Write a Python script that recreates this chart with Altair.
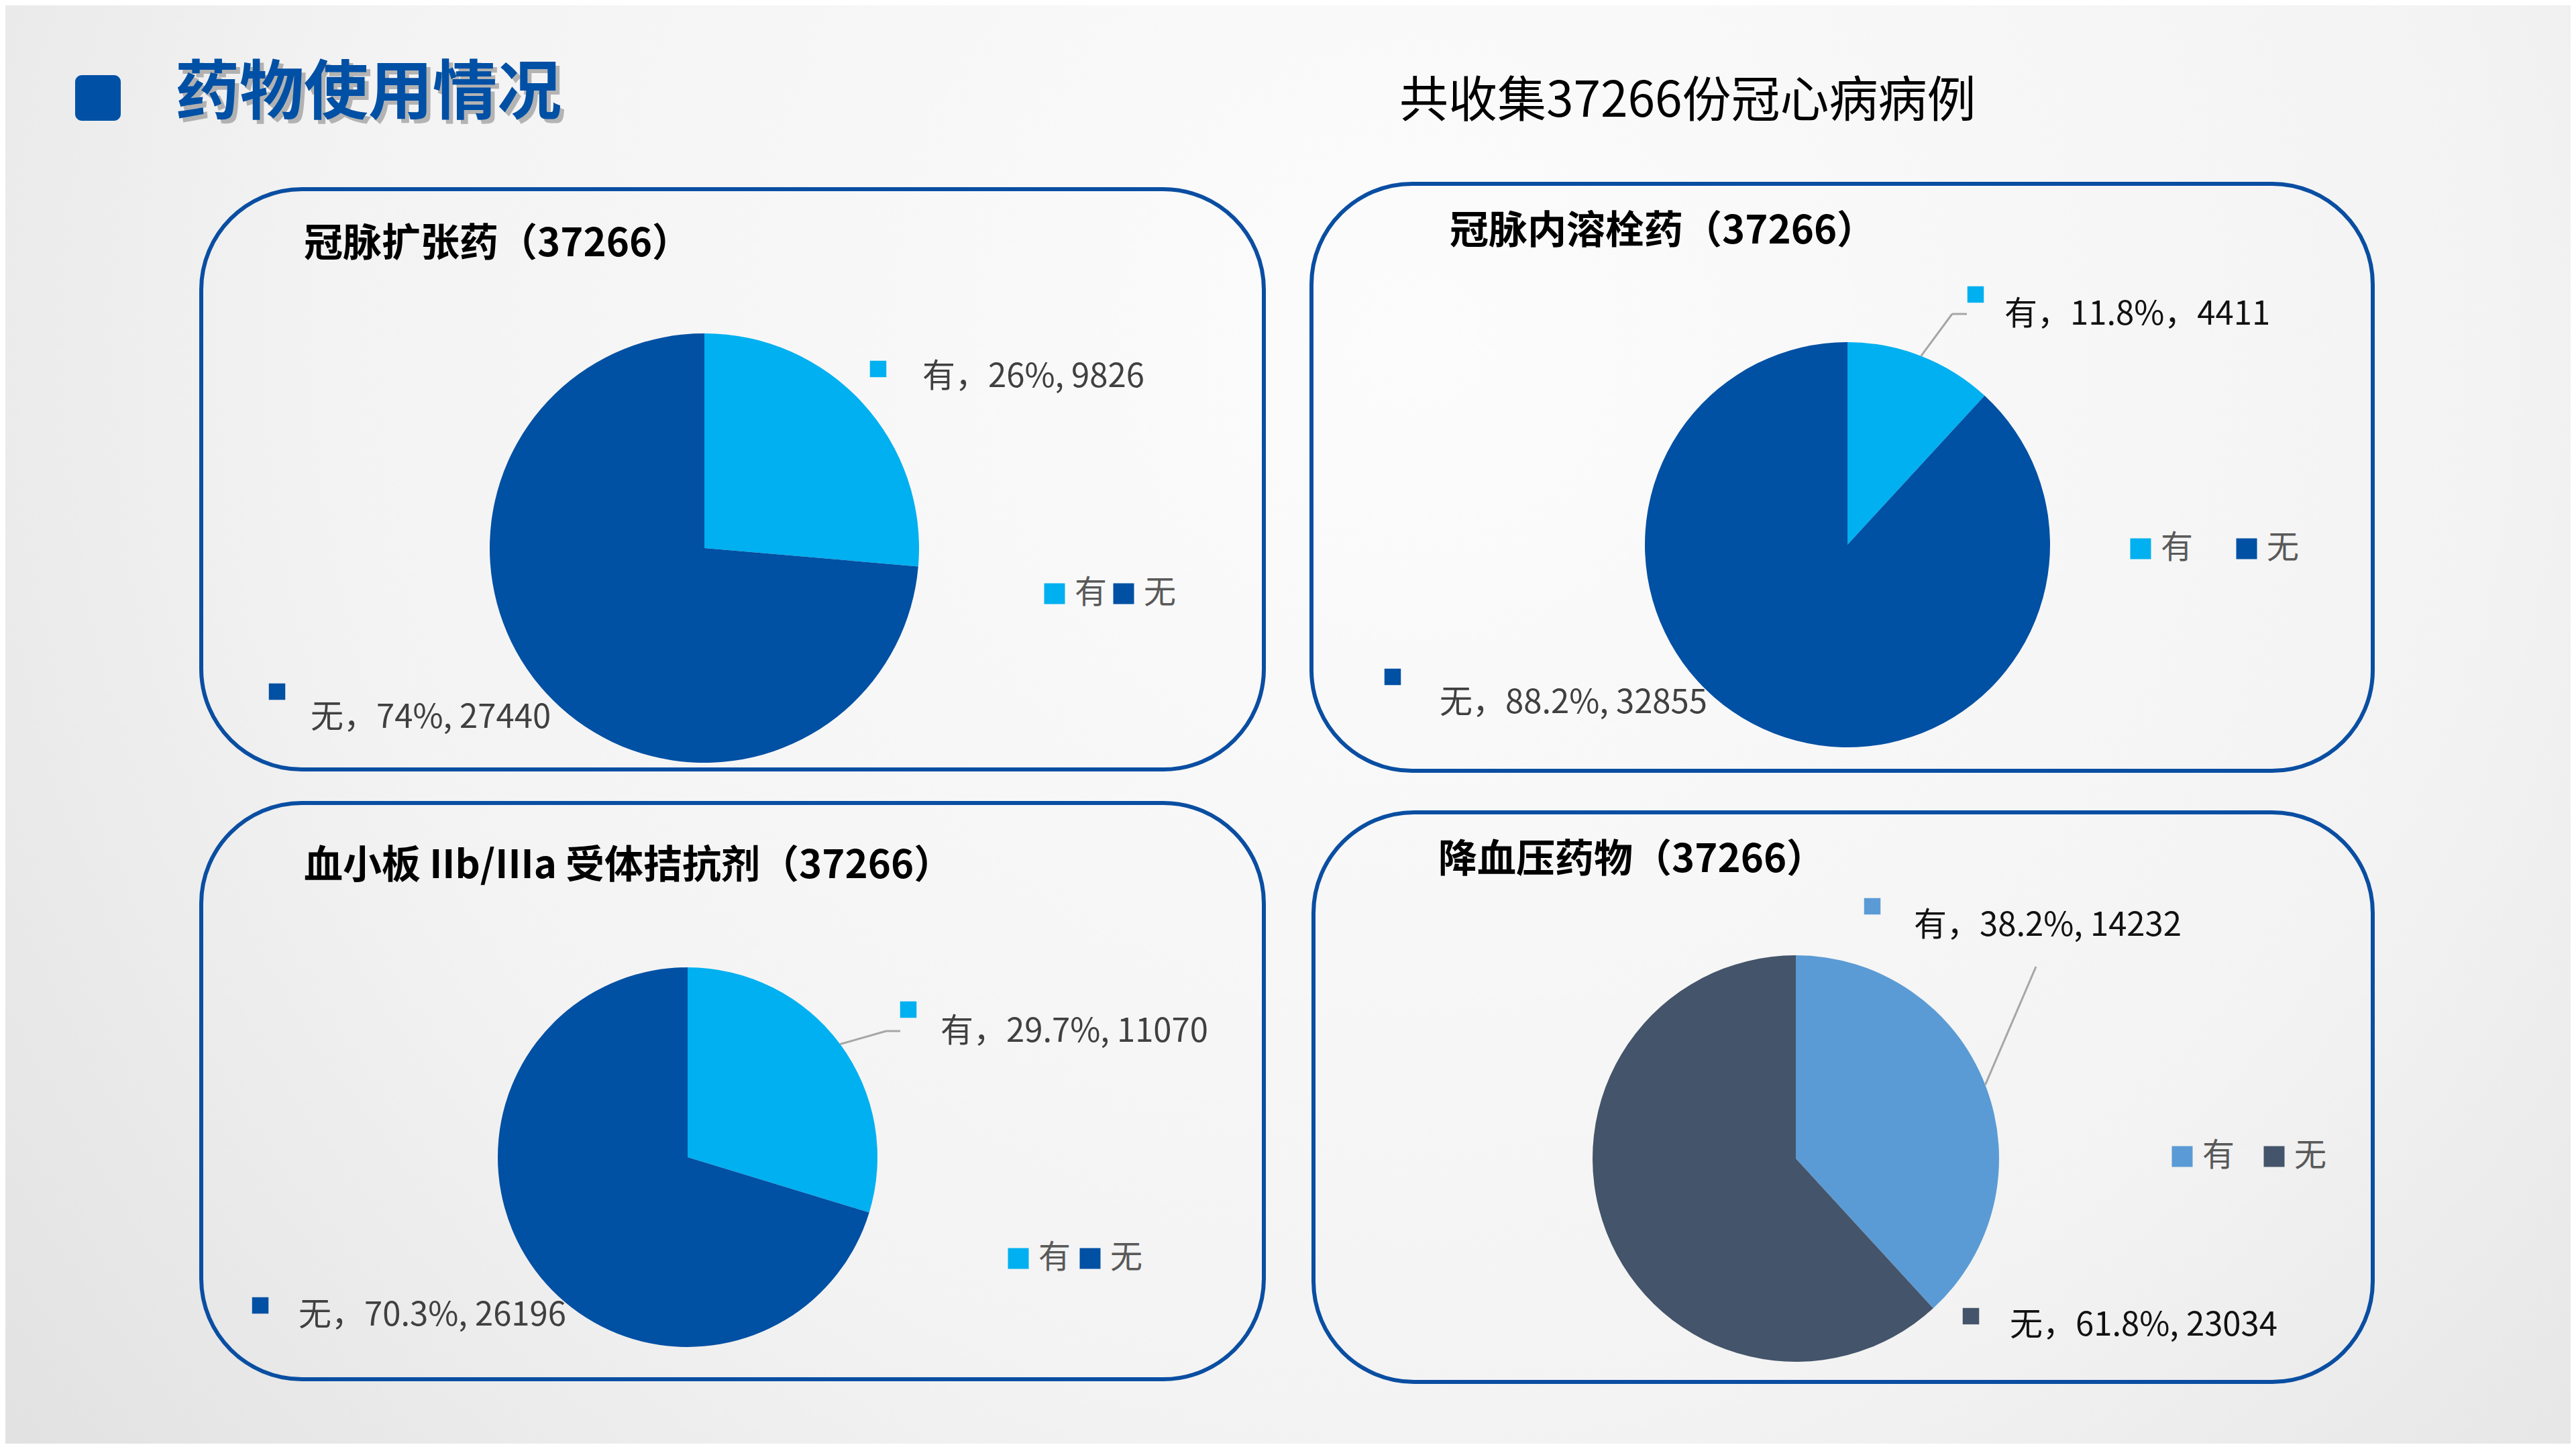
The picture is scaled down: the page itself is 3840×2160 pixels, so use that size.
import math

import pandas as pd
import altair as alt

FONT = "Noto Sans CJK SC"

# ---- values ----
categories = ["有", "无"]
main_title = "药物使用情况"
sub_title = "共收集37266份冠心病病例"
panel_titles = [
    "冠脉扩张药（37266）",
    "冠脉内溶栓药（37266）",
    "血小板 IIb/IIIa 受体拮抗剂（37266）",
    "降血压药物（37266）",
]
yes_counts = [9826, 4411, 11070, 14232]
no_counts = [27440, 32855, 26196, 23034]
yes_pct = ["26", "11.8", "29.7", "38.2"]
no_pct = ["74", "88.2", "70.3", "61.8"]
yes_sep = [", ", "，", ", ", ", "]  # 2nd chart used a full width comma

# ---- colours ----
LIGHT = "#00b0f0"
DARK = "#0050a4"
MID_BLUE = "#5b9bd5"
SLATE = "#44546a"
BORDER = "#0a4ea2"
TITLE_BLUE = "#0050a5"
TXT_GREY = "#404040"
TXT_BLACK = "#111111"
LEADER = "#a6a6a6"

W, H = 3824, 2144


def px(v):
    # page pixel -> view pixel (page has an 8px margin)
    return v - 8


# layout of the four boxes, in page pixels
panels = [
    dict(box=(300, 282, 1884, 1147), title=(453, 365), center=(1050, 817), r=320,
         colors=[LIGHT, DARK],
         yes_sq=(1309, 550), yes_txt=(1375, 562), yes_col=TXT_GREY,
         no_sq=(413, 1031), no_txt=(463, 1070), no_col=TXT_GREY,
         legend=(1558, 880, 0), elbow=None),
    dict(box=(1955, 274, 3537, 1149), title=(2161, 346), center=(2754, 812), r=302,
         colors=[LIGHT, DARK],
         yes_sq=(2945, 439), yes_txt=(2988, 469), yes_col=TXT_BLACK,
         no_sq=(2076, 1009), no_txt=(2146, 1048), no_col=TXT_GREY,
         legend=(3177, 813, 55), elbow=[(2910, 468), (2932, 468)]),
    dict(box=(300, 1197, 1884, 2056), title=(453, 1292), center=(1025, 1725), r=283,
         colors=[LIGHT, DARK],
         yes_sq=(1354, 1505), yes_txt=(1402, 1538), yes_col=TXT_GREY,
         no_sq=(388, 1946), no_txt=(445, 1961), no_col=TXT_GREY,
         legend=(1504, 1871, 4), elbow=[(1321, 1537), (1342, 1537)]),
    dict(box=(1958, 1211, 3537, 2060), title=(2144, 1283), center=(2677, 1727), r=303,
         colors=[MID_BLUE, SLATE],
         yes_sq=(2791, 1351), yes_txt=(2853, 1380), yes_col=TXT_BLACK,
         no_sq=(2938, 1962), no_txt=(2996, 1976), no_col=TXT_BLACK,
         legend=(3239, 1719, 34), elbow=[(3035, 1441)]),
]


def one_row(**kw):
    return alt.Chart(pd.DataFrame({k: [v] for k, v in kw.items()}))


def text_layer(text, x, y, size, color, weight="normal", opacity=1):
    return one_row(t=text).mark_text(
        align="left", baseline="middle", font=FONT, fontSize=size,
        fontWeight=weight, color=color, opacity=opacity,
    ).encode(x=alt.value(px(x)), y=alt.value(px(y)), text="t:N")


layers = []

# background with soft radial light
bg = alt.RadialGradient(
    gradient="radial",
    stops=[
        alt.GradientStop(color="#fcfcfc", offset=0),
        alt.GradientStop(color="#f3f3f3", offset=0.5),
        alt.GradientStop(color="#d8d8d8", offset=1),
    ],
    x1=0.55, y1=0.35, r1=0, x2=0.55, y2=0.35, r2=0.85,
)
layers.append(
    one_row(k=0).mark_rect(fill=bg).encode(
        x=alt.value(0), x2=alt.value(W), y=alt.value(0), y2=alt.value(H)
    )
)

# header: blue block, title with shadow, subtitle
layers.append(
    one_row(k=0).mark_rect(color=TITLE_BLUE, cornerRadius=10).encode(
        x=alt.value(px(112)), x2=alt.value(px(180)),
        y=alt.value(px(112)), y2=alt.value(px(180)),
    )
)
layers.append(text_layer(main_title, 267, 146, 96, "#7f7f7f", "bold", 0.55))
layers.append(text_layer(main_title, 261, 140, 96, TITLE_BLUE, "bold"))
layers.append(text_layer(sub_title, 2086, 152, 73, "#000000"))

for i, p in enumerate(panels):
    x0, y0, x1, y1 = p["box"]
    layers.append(
        one_row(k=i).mark_rect(
            fillOpacity=0, stroke=BORDER, strokeWidth=6, cornerRadius=150
        ).encode(
            x=alt.value(px(x0)), x2=alt.value(px(x1)),
            y=alt.value(px(y0)), y2=alt.value(px(y1)),
        )
    )
    layers.append(text_layer(panel_titles[i], p["title"][0], p["title"][1], 58, "#000000", "bold"))

    # the pie itself
    cx, cy = p["center"]
    lx, ly, gap = p["legend"]
    pie_df = pd.DataFrame({
        "cat": categories,
        "n": [yes_counts[i], no_counts[i]],
        "idx": [0, 1],
    })
    layers.append(
        alt.Chart(pie_df).mark_arc(radius=p["r"]).encode(
            theta=alt.Theta("n:Q", stack=True),
            order=alt.Order("idx:Q"),
            color=alt.Color(
                "cat:N",
                scale=alt.Scale(domain=categories, range=p["colors"]),
                title=None,
                legend=alt.Legend(
                    orient="none", legendX=px(lx) - 10, legendY=px(ly) - 19,
                    direction="horizontal", columnPadding=gap,
                    symbolType="square", symbolSize=961, symbolStrokeWidth=0,
                    symbolOpacity=1, labelOffset=6,
                    labelFont=FONT, labelFontSize=48, labelColor="#595959",
                ),
            ),
            x=alt.value(px(cx)),
            y=alt.value(px(cy)),
        )
    )

    # leader line from middle of the 有 slice
    if p["elbow"]:
        frac = yes_counts[i] / (yes_counts[i] + no_counts[i])
        ang = math.pi * frac
        start = (cx + p["r"] * math.sin(ang), cy - p["r"] * math.cos(ang))
        pts = [start] + p["elbow"]
        for a, b in zip(pts[:-1], pts[1:]):
            layers.append(
                one_row(k=i).mark_rule(color=LEADER, strokeWidth=3).encode(
                    x=alt.value(px(a[0])), y=alt.value(px(a[1])),
                    x2=alt.value(px(b[0])), y2=alt.value(px(b[1])),
                )
            )

    # data labels with their little colour keys
    yes_label = f"有，{yes_pct[i]}%{yes_sep[i]}{yes_counts[i]}"
    no_label = f"无，{no_pct[i]}%, {no_counts[i]}"
    for (sx, sy), (tx, ty), col, lab, key in [
        (p["yes_sq"], p["yes_txt"], p["yes_col"], yes_label, p["colors"][0]),
        (p["no_sq"], p["no_txt"], p["no_col"], no_label, p["colors"][1]),
    ]:
        layers.append(
            one_row(k=i).mark_square(size=600, color=key, opacity=1).encode(
                x=alt.value(px(sx)), y=alt.value(px(sy))
            )
        )
        layers.append(text_layer(lab, tx, ty, 49, col))

chart = (
    alt.layer(*layers)
    .resolve_scale(theta="independent", color="independent")
    .properties(width=W, height=H, padding=0)
    .configure_view(strokeWidth=0)
)

chart.save("out.html", embed_options={"renderer": "svg", "actions": False})
